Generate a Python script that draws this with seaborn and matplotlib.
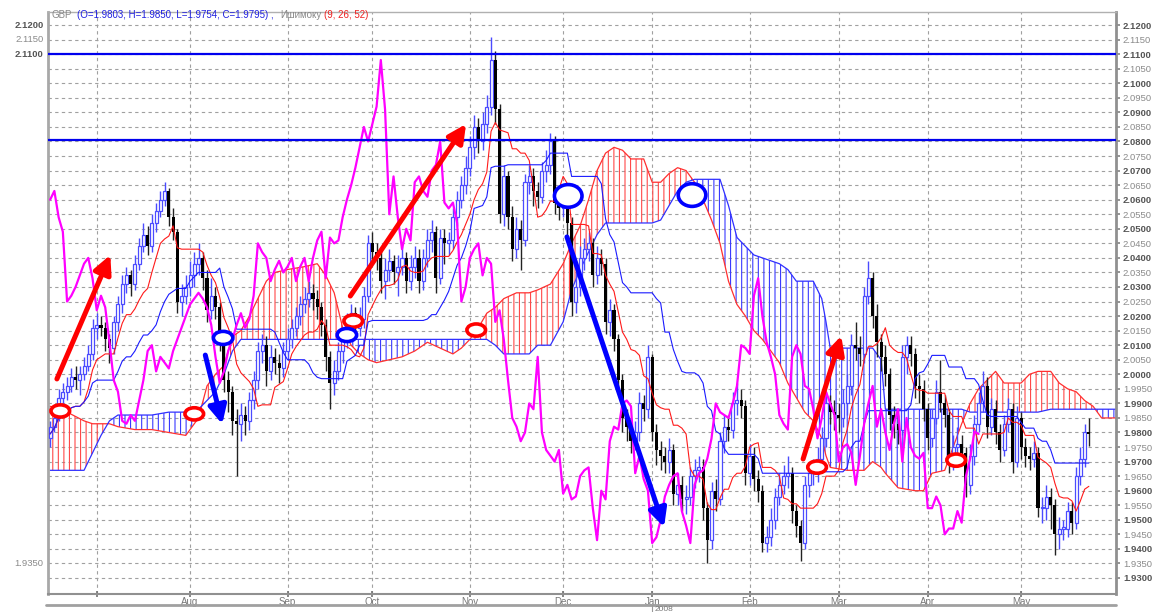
import numpy as np
import pandas as pd
import seaborn as sns
import matplotlib.pyplot as plt
from matplotlib.patches import Ellipse
from matplotlib import transforms

sns.set_theme(style="white")
plt.rcParams["font.family"] = ["Liberation Sans", "DejaVu Sans"]
plt.rcParams["hatch.linewidth"] = 0.8

# daily GBP candles, one per business day from 15 Jun 2007
start_date = "2007-06-15"
first_open = 1.9780
closes = [
    1.982, 1.985, 1.992, 1.994, 1.996, 1.999, 1.998, 2.000, 2.003, 2.007,
    2.016, 2.017, 2.016, 2.012, 2.009, 2.018, 2.024, 2.031, 2.034, 2.031,
    2.038, 2.044, 2.048, 2.044, 2.052, 2.056, 2.060, 2.063, 2.054, 2.049,
    2.025, 2.027, 2.030, 2.034, 2.038, 2.040, 2.033, 2.022, 2.027, 2.023,
    2.011, 1.998, 1.994, 1.984, 1.983, 1.986, 1.984, 1.991, 1.998, 2.008,
    2.010, 2.001, 2.006, 2.004, 2.002, 2.008, 2.012, 2.016, 2.020, 2.024,
    2.026, 2.028, 2.026, 2.023, 2.017, 2.006, 1.997, 2.001, 2.008, 2.012,
    2.017, 2.021, 2.016, 2.019, 2.027, 2.045, 2.042, 2.040, 2.032, 2.036,
    2.039, 2.035, 2.037, 2.040, 2.032, 2.037, 2.040, 2.032, 2.040, 2.046,
    2.049, 2.033, 2.047, 2.045, 2.046, 2.054, 2.060, 2.065, 2.071, 2.078,
    2.085, 2.080, 2.086, 2.092, 2.108, 2.091, 2.055, 2.068, 2.054, 2.043,
    2.050, 2.046, 2.066, 2.068, 2.063, 2.061, 2.070, 2.072, 2.080, 2.059,
    2.057, 2.059, 2.052, 2.025, 2.030, 2.040, 2.043, 2.045, 2.034, 2.040,
    2.038, 2.018, 2.022, 2.012, 1.998, 1.985, 1.982, 1.977, 1.980, 1.990,
    1.988, 2.006, 1.980, 1.974, 1.972, 1.970, 1.974, 1.959, 1.962, 1.957,
    1.958, 1.965, 1.967, 1.968, 1.954, 1.943, 1.960, 1.957, 1.977, 1.982,
    1.981, 1.990, 1.991, 1.989, 1.966, 1.972, 1.964, 1.960, 1.942, 1.944,
    1.950, 1.958, 1.962, 1.965, 1.966, 1.953, 1.948, 1.942, 1.962, 1.966,
    1.967, 1.971, 1.978, 1.990, 1.987, 1.986, 1.985, 1.990, 1.996, 2.010,
    2.009, 2.007, 2.027, 2.033, 2.020, 2.011, 2.006, 2.000, 1.986, 1.983,
    1.981, 2.006, 2.010, 2.007, 1.996, 1.995, 1.988, 1.978, 1.985, 1.994,
    1.990, 1.986, 1.970, 1.975, 1.976, 1.973, 1.962, 1.972, 1.983, 1.990,
    1.996, 1.982, 1.988, 1.980, 1.974, 1.983, 1.988, 1.970, 1.985, 1.975,
    1.972, 1.971, 1.973, 1.954, 1.954, 1.958, 1.955, 1.945, 1.947, 1.947,
    1.953, 1.949, 1.965, 1.971, 1.9803, 1.9795,
]
highs = [
    1.984, 1.988, 1.995, 1.997, 1.999, 2.002, 2.003, 2.003, 2.006, 2.010,
    2.019, 2.021, 2.020, 2.018, 2.014, 2.020, 2.027, 2.034, 2.037, 2.036,
    2.041, 2.047, 2.052, 2.051, 2.055, 2.059, 2.063, 2.066, 2.064, 2.057,
    2.050, 2.031, 2.034, 2.039, 2.042, 2.045, 2.042, 2.036, 2.033, 2.030,
    2.025, 2.013, 2.001, 1.996, 1.988, 1.990, 1.989, 1.994, 2.001, 2.011,
    2.014, 2.013, 2.010, 2.009, 2.007, 2.011, 2.016, 2.019, 2.023, 2.027,
    2.030, 2.032, 2.031, 2.029, 2.025, 2.019, 2.008, 2.005, 2.011, 2.016,
    2.021, 2.024, 2.023, 2.023, 2.030, 2.048, 2.049, 2.045, 2.043, 2.040,
    2.043, 2.041, 2.041, 2.044, 2.042, 2.041, 2.044, 2.043, 2.043, 2.050,
    2.053, 2.051, 2.050, 2.050, 2.049, 2.057, 2.063, 2.068, 2.075, 2.082,
    2.089, 2.088, 2.090, 2.096, 2.116, 2.111, 2.093, 2.072, 2.070, 2.058,
    2.054, 2.053, 2.069, 2.072, 2.071, 2.066, 2.073, 2.077, 2.083, 2.082,
    2.062, 2.063, 2.062, 2.054, 2.035, 2.044, 2.047, 2.049, 2.047, 2.044,
    2.043, 2.040, 2.026, 2.024, 2.014, 2.000, 1.988, 1.985, 1.984, 1.994,
    1.993, 2.010, 2.007, 1.983, 1.977, 1.975, 1.978, 1.976, 1.966, 1.965,
    1.962, 1.968, 1.971, 1.972, 1.971, 1.956, 1.963, 1.964, 1.980, 1.986,
    1.986, 1.994, 1.997, 1.995, 1.991, 1.976, 1.975, 1.967, 1.962, 1.948,
    1.954, 1.961, 1.966, 1.969, 1.972, 1.968, 1.955, 1.950, 1.965, 1.970,
    1.971, 1.975, 1.982, 1.994, 1.993, 1.991, 1.990, 1.995, 2.000, 2.014,
    2.018, 2.013, 2.030, 2.039, 2.035, 2.024, 2.014, 2.010, 2.002, 1.989,
    1.986, 2.010, 2.013, 2.013, 2.009, 2.000, 1.998, 1.990, 1.988, 1.998,
    2.005, 1.993, 1.988, 1.979, 1.982, 1.979, 1.975, 1.976, 1.986, 1.994,
    2.001, 1.999, 1.992, 1.991, 1.983, 1.986, 1.992, 1.990, 1.989, 1.987,
    1.978, 1.975, 1.977, 1.975, 1.958, 1.962, 1.961, 1.957, 1.951, 1.950,
    1.956, 1.956, 1.968, 1.975, 1.983, 1.9850,
]
lows = [
    1.975, 1.980, 1.984, 1.989, 1.991, 1.994, 1.995, 1.993, 1.998, 2.001,
    2.005, 2.012, 2.013, 2.008, 2.004, 2.007, 2.015, 2.021, 2.028, 2.027,
    2.029, 2.036, 2.042, 2.041, 2.042, 2.049, 2.054, 2.058, 2.051, 2.046,
    2.021, 2.020, 2.024, 2.027, 2.030, 2.034, 2.029, 2.018, 2.019, 2.019,
    2.008, 1.994, 1.987, 1.979, 1.965, 1.977, 1.979, 1.981, 1.988, 1.995,
    2.004, 1.996, 1.998, 2.000, 1.997, 1.999, 2.005, 2.009, 2.013, 2.017,
    2.021, 2.023, 2.022, 2.019, 2.013, 2.001, 1.988, 1.993, 1.998, 2.004,
    2.009, 2.014, 2.012, 2.013, 2.016, 2.025, 2.038, 2.036, 2.028, 2.026,
    2.032, 2.031, 2.027, 2.034, 2.028, 2.029, 2.033, 2.028, 2.029, 2.037,
    2.042, 2.028, 2.031, 2.038, 2.041, 2.043, 2.051, 2.057, 2.062, 2.068,
    2.074, 2.076, 2.077, 2.083, 2.089, 2.086, 2.052, 2.051, 2.050, 2.039,
    2.040, 2.036, 2.044, 2.062, 2.058, 2.057, 2.059, 2.066, 2.069, 2.055,
    2.053, 2.054, 2.048, 2.020, 2.021, 2.027, 2.036, 2.039, 2.030, 2.031,
    2.034, 2.014, 2.013, 2.008, 1.994, 1.980, 1.977, 1.973, 1.974, 1.977,
    1.984, 1.985, 1.977, 1.969, 1.967, 1.966, 1.966, 1.955, 1.955, 1.953,
    1.952, 1.955, 1.961, 1.963, 1.950, 1.935, 1.940, 1.953, 1.955, 1.973,
    1.977, 1.978, 1.986, 1.985, 1.962, 1.962, 1.960, 1.956, 1.939, 1.939,
    1.941, 1.947, 1.955, 1.959, 1.961, 1.949, 1.944, 1.936, 1.940, 1.958,
    1.962, 1.963, 1.968, 1.975, 1.983, 1.981, 1.980, 1.982, 1.986, 1.993,
    2.005, 2.003, 2.004, 2.024, 2.016, 2.006, 2.001, 1.996, 1.981, 1.978,
    1.976, 1.979, 2.000, 2.003, 1.992, 1.990, 1.984, 1.974, 1.975, 1.983,
    1.987, 1.982, 1.966, 1.967, 1.972, 1.970, 1.958, 1.959, 1.969, 1.980,
    1.987, 1.978, 1.979, 1.976, 1.970, 1.972, 1.980, 1.966, 1.968, 1.971,
    1.968, 1.967, 1.968, 1.951, 1.949, 1.950, 1.947, 1.938, 1.940, 1.943,
    1.944, 1.945, 1.947, 1.962, 1.968, 1.9754,
]

# cloud (senkou span A / B) read at bar positions, incl. the part projected ahead
cloud_bar = [0, 4, 8, 10, 12, 14, 16, 20, 24, 28, 32, 35, 37, 39, 41, 43, 45, 47, 49, 51,
             53, 56, 60, 63, 65, 67, 69, 71, 73, 75, 77, 80, 83, 86, 89, 92, 95, 97, 99, 101,
             103, 105, 107, 110, 113, 115, 118, 121, 123, 125, 127, 129, 131, 133, 135, 137,
             140, 142, 144, 146, 148, 150, 152, 154, 156, 158, 160, 162, 164, 166, 168, 170,
             172, 174, 176, 178, 180, 182, 183, 184, 188, 192, 194, 196, 197, 200, 204, 206,
             208, 211, 213, 215, 217, 219, 221, 223, 225, 229, 231, 233, 236, 238, 240, 242,
             244, 246, 248, 252]
span_a = [1.989, 1.987, 1.984, 1.983, 1.983, 1.983, 1.982, 1.981, 1.981, 1.980, 1.979, 1.985,
          1.996, 2.000, 2.003, 2.013, 2.015, 2.020, 2.026, 2.032, 2.035, 2.036, 2.037, 2.038,
          2.034, 2.028, 2.016, 2.010, 2.007, 2.005, 2.004, 2.005, 2.006, 2.008, 2.011, 2.009,
          2.007, 2.009, 2.012, 2.016, 2.021, 2.023, 2.026, 2.028, 2.028, 2.029, 2.031, 2.038,
          2.045, 2.051, 2.060, 2.070, 2.076, 2.078, 2.077, 2.074, 2.074, 2.066, 2.066, 2.069,
          2.071, 2.070, 2.066, 2.060, 2.053, 2.045, 2.032, 2.024, 2.020, 2.015, 2.012, 2.008,
          2.004, 1.997, 1.992, 1.987, 1.984, 1.978, 1.972, 1.968, 1.967, 1.967, 1.970, 1.968,
          1.966, 1.961, 1.960, 1.960, 1.966, 1.967, 1.975, 1.983, 1.990, 1.995, 1.998, 2.001,
          1.997, 1.997, 2.000, 2.001, 2.001, 1.997, 1.995, 1.994, 1.991, 1.989, 1.985, 1.985]
span_b = [1.967, 1.967, 1.967, 1.973, 1.979, 1.984, 1.986, 1.986, 1.986, 1.987, 1.987, 1.988,
          1.991, 1.994, 2.000, 2.008, 2.012, 2.012, 2.012, 2.012, 2.012, 2.012, 2.012, 2.012,
          2.012, 2.012, 2.012, 2.012, 2.012, 2.012, 2.012, 2.012, 2.012, 2.012, 2.012, 2.012,
          2.012, 2.012, 2.012, 2.012, 2.012, 2.010, 2.007, 2.007, 2.007, 2.010, 2.010, 2.018,
          2.029, 2.036, 2.042, 2.048, 2.052, 2.052, 2.052, 2.052, 2.052, 2.052, 2.053, 2.058,
          2.063, 2.066, 2.067, 2.067, 2.067, 2.067, 2.058, 2.047, 2.044, 2.041, 2.040, 2.039,
          2.038, 2.036, 2.032, 2.032, 2.032, 2.026, 2.018, 2.009, 2.009, 2.009, 2.009, 2.005,
          1.988, 1.988, 1.988, 1.988, 1.988, 1.988, 1.988, 1.988, 1.987, 1.987, 1.987, 1.987,
          1.987, 1.987, 1.987, 1.987, 1.988, 1.988, 1.988, 1.988, 1.988, 1.988, 1.988, 1.988]

month_starts = ["2007-07-02", "2007-08-01", "2007-09-03", "2007-10-01", "2007-11-01",
                "2007-12-03", "2008-01-01", "2008-02-01", "2008-03-03", "2008-04-01",
                "2008-05-01"]
month_labels = ["", "Aug", "Sep", "Oct", "Nov", "Dec", "Jan", "Feb", "Mar", "Apr", "May"]

levels = [2.1100, 2.0805]

# hand-drawn marks: (bar, price)
red_arrows = [((1.6, 1.9984), (14.2, 2.0410)), ((70.8, 2.0269), (98.1, 2.0860)),
              ((177.6, 1.9709), (186.6, 2.0132))]
blue_arrows = [((36.6, 2.0066), (40.6, 1.9829)), ((121.9, 2.0472), (144.8, 1.9475))]
red_rings = [(2.4, 1.9874), (34.0, 1.9864), (71.5, 2.0183), (100.5, 2.0152),
             (180.9, 1.9681), (213.7, 1.9705)]
blue_rings = [(40.8, 2.0125), (70.0, 2.0135)]
big_blue_rings = [(122.2, 2.0613), (151.4, 2.0616)]

n = len(closes)
days = pd.bdate_range(start_date, periods=n)
x = np.arange(n)
c = np.array(closes)
o = np.array([first_open] + closes[:-1])
h = np.array(highs)
l = np.array(lows)

df = pd.DataFrame({"high": h, "low": l, "close": c})
tenkan = (df["high"].rolling(9, min_periods=1).max() + df["low"].rolling(9, min_periods=1).min()) / 2
kijun = (df["high"].rolling(26, min_periods=1).max() + df["low"].rolling(26, min_periods=1).min()) / 2

fig = plt.figure(figsize=(11.52, 6.12), dpi=100)
ax = fig.add_axes([48 / 1152, 1 - 594 / 612, 1068 / 1152, 582 / 612])

# cloud
cb = np.array(cloud_bar)
sa = np.array(span_a)
sb = np.array(span_b)
ax.fill_between(cb, sa, sb, where=sa >= sb, interpolate=True, facecolor="none",
                edgecolor="#ff4848", hatch="|||", linewidth=0, zorder=1)
ax.fill_between(cb, sa, sb, where=sa < sb, interpolate=True, facecolor="none",
                edgecolor="#3a3aff", hatch="|||", linewidth=0, zorder=1)
sns.lineplot(x=cb, y=sa, ax=ax, color="#ff3030", lw=0.9, zorder=2)
sns.lineplot(x=cb, y=sb, ax=ax, color="#3030ff", lw=0.9, zorder=2)

# candles
up = c >= o
body = np.maximum(np.abs(c - o), 0.0004)
bottom = np.minimum(o, c)
up_col = "#4b4bff"
ax.vlines(x[up], l[up], h[up], color=up_col, lw=1, zorder=3)
ax.vlines(x[~up], l[~up], h[~up], color="#222222", lw=1, zorder=3)
ax.bar(x[up], body[up], bottom=bottom[up], width=0.72, facecolor="white",
       edgecolor=up_col, lw=0.9, zorder=4)
ax.bar(x[~up], body[~up], bottom=bottom[~up], width=0.72, color="black", lw=0, zorder=4)

# ichimoku lines
sns.lineplot(x=x, y=tenkan, ax=ax, color="#ff1a1a", lw=0.8, zorder=5)
sns.lineplot(x=x, y=kijun, ax=ax, color="#1a1aff", lw=0.8, zorder=5)
sns.lineplot(x=x[:-26], y=c[26:], ax=ax, color="#ff00ff", lw=1.6, zorder=6)

for lv in levels:
    ax.axhline(lv, color="#0000ee", lw=1.6, zorder=6)

# marks
for rings, col, w, hgt in [(red_rings, "red", 4.4, 0.0042), (blue_rings, "blue", 4.6, 0.0045),
                           (big_blue_rings, "blue", 6.5, 0.0078)]:
    for bx, py in rings:
        ax.add_patch(Ellipse((bx, py), w, hgt, facecolor="white", edgecolor=col,
                             lw=2.6, zorder=7))
for arrows, col in [(red_arrows, "red"), (blue_arrows, "#0000ff")]:
    for (x0, y0), (x1, y1) in arrows:
        ax.annotate("", xy=(x1, y1), xytext=(x0, y0),
                    arrowprops=dict(arrowstyle="-|>,head_length=0.9,head_width=0.45",
                                    lw=3.6, color=col, shrinkA=0, shrinkB=0), zorder=8)

# axes
ax.set_xlim(-0.5, 251.4)
ax.set_ylim(1.9245, 2.1245)
yticks = np.round(np.arange(1.930, 2.1201, 0.005), 4)
ax.yaxis.tick_right()
ax.set_yticks(yticks)
ax.set_yticklabels([f"{v:.4f}" for v in yticks])
for v, lab in zip(yticks, ax.get_yticklabels()):
    if round(v * 1000) % 10 == 0:
        lab.set_fontweight("bold")
        lab.set_color("#555555")
    else:
        lab.set_color("#8a8a8a")
tick_pos = [days.get_loc(pd.Timestamp(d)) for d in month_starts]
ax.set_xticks(tick_pos)
ax.set_xticklabels(month_labels)
ax.tick_params(axis="y", labelsize=6.8, length=3, pad=2, color="#888888", right=True)
ax.tick_params(axis="x", labelsize=7, length=4, pad=0, direction="inout",
               colors="#777777", bottom=True)
ax.grid(True, linestyle=(0, (3, 3)), color="#a0a0a0", lw=0.8)
ax.set_axisbelow(True)
for side, col, lw in [("left", "#a8a8a8", 2), ("right", "#909090", 2),
                      ("top", "#b0b0b0", 1), ("bottom", "#909090", 1.5)]:
    ax.spines[side].set_visible(True)
    ax.spines[side].set_color(col)
    ax.spines[side].set_linewidth(lw)
ax.set_xlabel("")
ax.set_ylabel("")

# a few left-hand price labels
trans = transforms.blended_transform_factory(ax.transAxes, ax.transData)
for v in [2.1200, 2.1150, 2.1100, 1.9350]:
    ax.text(-0.004, v, f"{v:.4f}", transform=trans, ha="right", va="center", fontsize=6.8,
            color="#555555" if round(v * 1000) % 10 == 0 else "#8a8a8a",
            fontweight="bold" if round(v * 1000) % 10 == 0 else "normal")

# header
head = fig.text(52 / 1152, 1 - 15 / 612, "GBP", fontsize=7, color="#888888", va="center")
pieces = [(f"(O={o[-1]:.4f}, H={h[-1]:.4f}, L={l[-1]:.4f}, C={c[-1]:.4f}) ,", "#2020e0", 3),
          ("Ишимоку", "#888888", 5), ("(9, 26, 52)", "#ee2020", 2)]
prev = head
for txt, col, gap in pieces:
    prev = ax.annotate(txt, xy=(1, 0.5), xycoords=prev, xytext=(gap, 0),
                       textcoords="offset points", va="center", ha="left",
                       fontsize=7, color=col, annotation_clip=False)

# lower strip
fig.add_artist(plt.Line2D([46 / 1152, 1116 / 1152], [1 - 605 / 612] * 2, color="#a0a0a0", lw=2))
jan_x = 48 / 1152 + (tick_pos[6] + 0.5) / 251.9 * 1068 / 1152
fig.add_artist(plt.Line2D([jan_x, jan_x], [0, 1 - 605 / 612], color="#999999", lw=0.8))
fig.text(jan_x + 0.002, 1 - 606 / 612, "2008", fontsize=6, color="#777777", va="top")

fig.savefig("out.png", dpi=100)
